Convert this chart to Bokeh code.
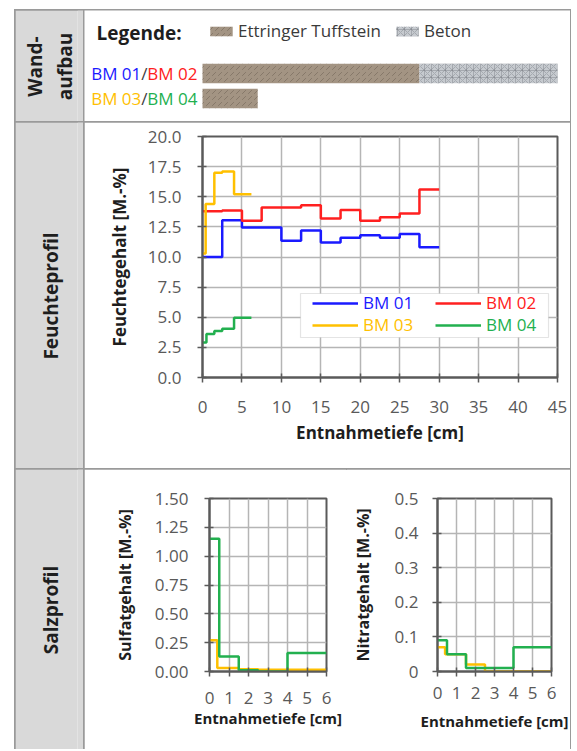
from bokeh.plotting import figure
from bokeh.layouts import row, column
from bokeh.models import (Range1d, FixedTicker, NumeralTickFormatter, Plot, LinearAxis,
                          Legend, LegendItem, BoxAnnotation, Label)
from bokeh.embed import file_html
from bokeh.resources import INLINE

# ------------------------------------------------------------------ data
wall_rows = ["BM 01/BM 02", "BM 03/BM 04"]
tuff_rows = ["BM 01/BM 02", "BM 03/BM 04"]
tuff_from = [0.0, 0.0]
tuff_to = [27.5, 7.0]
beton_rows = ["BM 01/BM 02"]
beton_from = [27.5]
beton_to = [45.0]

depth_bm0102 = [0, 2.5, 5, 7.5, 10, 12.5, 15, 17.5, 20, 22.5, 25, 27.5, 30]
moist_bm01 = [10.0, 13.05, 12.45, 12.45, 11.35, 12.2, 11.2, 11.6, 11.8, 11.6, 11.9, 10.8]
moist_bm02 = [13.8, 13.85, 13.0, 14.1, 14.1, 14.3, 13.2, 13.9, 13.0, 13.3, 13.6, 15.6]
depth_bm03_moist = [0, 0.4, 1.5, 2.5, 4.0, 6.2]
moist_bm03 = [10.3, 14.4, 17.0, 17.1, 15.2]
depth_bm04_moist = [0, 0.5, 1.5, 2.5, 4.0, 6.2]
moist_bm04 = [2.9, 3.6, 3.85, 4.05, 4.95]

depth_bm03_salt = [0, 0.4, 1.5, 2.5, 4, 6]
depth_bm04_salt = [0, 0.5, 1.5, 2.5, 4, 6]
sulfat_bm03 = [0.27, 0.03, 0.02, 0.015, 0.015]
sulfat_bm04 = [1.15, 0.13, 0.01, 0.0, 0.16]
nitrat_bm03 = [0.07, 0.05, 0.02, 0.0, 0.0]
nitrat_bm04 = [0.09, 0.05, 0.01, 0.01, 0.07]

series_names = ["BM 01", "BM 02", "BM 03", "BM 04"]

moist_x_ticks = [0, 5, 10, 15, 20, 25, 30, 35, 40, 45]
moist_y_ticks = [0, 2.5, 5, 7.5, 10, 12.5, 15, 17.5, 20]
salt_x_ticks = [0, 1, 2, 3, 4, 5, 6]
sulfat_y_ticks = [0, 0.25, 0.5, 0.75, 1.0, 1.25, 1.5]
nitrat_y_ticks = [0, 0.1, 0.2, 0.3, 0.4, 0.5]

# ------------------------------------------------------------------ style / layout constants
FONT = "Open Sans"
LINE = "#9a9a9a"
GRAY_CELL = "#d9d9d9"
AXIS = "#5a5a5a"
GRID = "#b5b5b5"
TICK_TXT = "#595959"
TITLE_TXT = "#1e1e1e"
COLORS = {"BM 01": "#1a1aff", "BM 02": "#ff2020", "BM 03": "#ffc000", "BM 04": "#22b04f"}
PAD_L, PAD_T = 15, 10       # white space left of / above the table
LW = 69                     # left column width  (x 15..84)
RW = 486                    # right column width (x 84..570)
H1, H2, H3 = 112, 347, 281  # row heights (y 10..122..469..750)
SW, NW = 262, 224           # salt chart widths
M_L, M_R = 118, 13          # moisture frame borders (shared with wall strip)
CELL_FL = 62                # frame start inside the gray cells (titles sit left of it)
FA = {"frame_align": False} if "frame_align" in Plot.properties() else {}

CELL_CSS = {"outline": "2px solid " + LINE, "outline-offset": "-1px"}
LAST_CSS = dict(CELL_CSS, **{"clip-path": "inset(-3px -3px 1px -3px)"})

OS_W = {'B': 0.633, 'M': 0.903, ' ': 0.26, '/': 0.367}


def text_w(s, size):
    return sum(OS_W.get(ch, 0.572) for ch in s) * size


def steps(edges, vals):
    xs, ys = [], []
    for i, v in enumerate(vals):
        xs += [edges[i], edges[i + 1]]
        ys += [v, v]
    return xs, ys


def plain_fig(w, h, color, xr=None, yr=None, css=None, left=0):
    kw = dict(FA)
    if css:
        kw["styles"] = css
    p = figure(width=w, height=h, x_range=xr or Range1d(0, 1), y_range=yr or Range1d(0, 1),
               output_backend="svg", toolbar_location=None,
               min_border_left=left, min_border_right=0, min_border_top=0, min_border_bottom=0,
               x_axis_location=None, y_axis_location=None,
               background_fill_color=color, border_fill_color=color, outline_line_color=None,
               **kw)
    p.grid.visible = False
    return p


def style_axes(p, xticks, yticks, yfmt, xlab, ylab, fs, tfs, xtfs,
               ystand, ytstand, xstand, xtstand):
    for ax in (p.xaxis[0], p.yaxis[0]):
        ax.axis_line_color = AXIS
        ax.axis_line_width = 2
        ax.major_tick_line_color = AXIS
        ax.major_tick_line_width = 1.5
        ax.major_tick_in = 4
        ax.major_tick_out = 5
        ax.minor_tick_line_color = None
        ax.major_label_text_font = FONT
        ax.major_label_text_font_size = fs
        ax.major_label_text_color = TICK_TXT
        ax.axis_label_text_font = FONT
        ax.axis_label_text_font_style = "bold"
        ax.axis_label_text_font_size = tfs
        ax.axis_label_text_color = TITLE_TXT
    p.xaxis.axis_label_text_font_size = xtfs
    p.xaxis.ticker = FixedTicker(ticks=xticks)
    p.yaxis.ticker = FixedTicker(ticks=yticks)
    p.xaxis.formatter = NumeralTickFormatter(format="0")
    p.yaxis.formatter = NumeralTickFormatter(format=yfmt)
    p.xaxis.axis_label = xlab
    p.yaxis.axis_label = ylab
    p.yaxis.major_label_standoff = ystand
    p.yaxis.axis_label_standoff = ytstand
    p.xaxis.major_label_standoff = xstand
    p.xaxis.axis_label_standoff = xtstand
    p.grid.grid_line_color = GRID
    p.grid.grid_line_width = 1.5
    p.outline_line_color = AXIS
    p.outline_line_width = 2


def chart_fig(w, h, xr, yr, l, r, t, b, css=None):
    kw = dict(FA)
    if css:
        kw["styles"] = css
    return figure(width=w, height=h, x_range=xr, y_range=yr, output_backend="svg",
                  toolbar_location=None, min_border_left=l, min_border_right=r,
                  min_border_top=t, min_border_bottom=b, **kw)


# ------------------------------------------------------------------ left column cells
def gray_cell(h, titles, css=CELL_CSS):
    """Gray row-header cell; its rotated titles are (invisible) y-axis labels."""
    c = plain_fig(LW, h, GRAY_CELL, css=css, left=CELL_FL)
    for txt, standoff in titles:
        c.add_layout(LinearAxis(axis_label=txt, ticker=FixedTicker(ticks=[]),
                                axis_line_color=None, major_tick_line_color=None,
                                minor_tick_line_color=None, major_label_text_font_size="0px",
                                major_tick_in=0, major_tick_out=0, major_label_standoff=0,
                                axis_label_standoff=standoff, axis_label_text_font=FONT,
                                axis_label_text_font_style="bold",
                                axis_label_text_font_size="19px",
                                axis_label_text_color=TITLE_TXT), "left")
    return c


cell_wand = gray_cell(H1, [("aufbau", 0), ("Wand-", 1)])
cell_feucht = gray_cell(H2, [("Feuchteprofil", 14)])
cell_salz = gray_cell(H3, [("Salzprofil", 14)], css=LAST_CSS)

# ------------------------------------------------------------------ moisture chart
moist = chart_fig(RW, H2, Range1d(moist_x_ticks[0], moist_x_ticks[-1]),
                  Range1d(moist_y_ticks[0], moist_y_ticks[-1]), M_L, M_R, 14, 92, css=CELL_CSS)
style_axes(moist, moist_x_ticks, moist_y_ticks, "0.0", "Entnahmetiefe [cm]",
           "Feuchtegehalt [M.-%]", "17px", "17px", "17px", 16, 14, 18, 5)

moist_series = [(depth_bm0102, moist_bm01), (depth_bm0102, moist_bm02),
                (depth_bm03_moist, moist_bm03), (depth_bm04_moist, moist_bm04)]
moist_renderers = {}
for name, (edges, vals) in zip(series_names, moist_series):
    xs, ys = steps(edges, vals)
    moist_renderers[name] = moist.line(xs, ys, line_color=COLORS[name], line_width=2.5)

moist.add_layout(BoxAnnotation(left=98, right=346, bottom=40, top=84,
                               left_units="screen", right_units="screen",
                               top_units="screen", bottom_units="screen",
                               fill_color="white", fill_alpha=1,
                               line_color="#a6a6a6", line_width=1.2))
leg_pos = {"BM 01": (110, 63), "BM 02": (233, 63), "BM 03": (110, 41), "BM 04": (233, 41)}
for name in series_names:
    moist.add_layout(Legend(items=[LegendItem(label=name, renderers=[moist_renderers[name]])],
                            location=leg_pos[name], glyph_width=46, glyph_height=20,
                            label_height=20, label_standoff=5, padding=0, margin=0, spacing=0,
                            border_line_color=None, background_fill_alpha=0,
                            label_text_font=FONT, label_text_font_size="17px",
                            label_text_color=COLORS[name]))

# ------------------------------------------------------------------ wall structure strip
ppu = (RW - M_L - M_R) / (moist_x_ticks[-1] - moist_x_ticks[0])
ROW_PITCH = 25
ROW_BASE = 24
wall = plain_fig(RW, H1, "white", css=CELL_CSS,
                 xr=Range1d(moist_x_ticks[0] - M_L / ppu, moist_x_ticks[-1] + M_R / ppu),
                 yr=Range1d(-ROW_BASE / ROW_PITCH, (H1 - ROW_BASE) / ROW_PITCH))
row_index = {r: len(wall_rows) - 1 - i for i, r in enumerate(wall_rows)}
tuff_r = wall.hbar(y=[row_index[r] for r in tuff_rows], left=tuff_from, right=tuff_to,
                   height=0.78, fill_color="#a39483", line_color=None,
                   hatch_pattern="right_diagonal_dash", hatch_color="#6c5f52",
                   hatch_alpha=0.55, hatch_scale=6, hatch_weight=1)
beton_r = wall.hbar(y=[row_index[r] for r in beton_rows], left=beton_from, right=beton_to,
                    height=0.78, fill_color="#c6cacf", line_color=None,
                    hatch_pattern="criss_cross", hatch_color="#7c8188",
                    hatch_alpha=0.45, hatch_scale=7, hatch_weight=1)
wall.add_layout(Legend(items=[LegendItem(label="Ettringer Tuffstein", renderers=[tuff_r]),
                              LegendItem(label="Beton", renderers=[beton_r])],
                       location=(123, 80), orientation="horizontal", glyph_width=28,
                       glyph_height=12, label_height=20, label_standoff=3, spacing=12,
                       padding=0, margin=0, border_line_color=None, background_fill_alpha=0,
                       label_text_font=FONT, label_text_font_size="17px",
                       label_text_color="#3a3a3a"))
wall.add_layout(Label(x=12, y=90, x_units="screen", y_units="screen", text="Legende:",
                      text_baseline="middle", text_font=FONT, text_font_style="bold",
                      text_font_size="19px", text_color=TITLE_TXT))
row_colors = [(COLORS["BM 01"], COLORS["BM 02"]), (COLORS["BM 03"], COLORS["BM 04"])]
for label, (c1, c2) in zip(wall_rows, row_colors):
    a, b = label.split("/")
    y = ROW_BASE + row_index[label] * ROW_PITCH
    x = M_L - 5
    for txt, col in reversed([(a, c1), ("/", "#404040"), (b, c2)]):
        wall.add_layout(Label(x=x, y=y, x_units="screen", y_units="screen", text=txt,
                              text_align="right", text_baseline="middle", text_font=FONT,
                              text_font_size="17px", text_color=col))
        x -= text_w(txt, 17)

# ------------------------------------------------------------------ salt charts
sulf = chart_fig(SW, H3, Range1d(salt_x_ticks[0], salt_x_ticks[-1]),
                 Range1d(sulfat_y_ticks[0], sulfat_y_ticks[-1]), 125, 20, 29, 79)
style_axes(sulf, salt_x_ticks, sulfat_y_ticks, "0.00", "Entnahmetiefe [cm]",
           "Sulfatgehalt [M.-%]", "17px", "16px", "15px", 16, 16, 15, 1)
for name, edges, vals in [("BM 03", depth_bm03_salt, sulfat_bm03),
                          ("BM 04", depth_bm04_salt, sulfat_bm04)]:
    xs, ys = steps(edges, vals)
    sulf.line(xs, ys, line_color=COLORS[name], line_width=2.5)

nitr = chart_fig(NW, H3, Range1d(salt_x_ticks[0], salt_x_ticks[-1]),
                 Range1d(nitrat_y_ticks[0], nitrat_y_ticks[-1]), 91, 19, 29, 79)
style_axes(nitr, salt_x_ticks, nitrat_y_ticks, "0.[0]", "Entnahmetiefe [cm]",
           "Nitratgehalt [M.-%]", "17px", "16px", "15px", 14, 18, 10, 9)
for name, edges, vals in [("BM 03", depth_bm03_salt, nitrat_bm03),
                          ("BM 04", depth_bm04_salt, nitrat_bm04)]:
    xs, ys = steps(edges, vals)
    nitr.line(xs, ys, line_color=COLORS[name], line_width=2.5)

# ------------------------------------------------------------------ layout
left_col = column(cell_wand, cell_feucht, cell_salz)
right_col = column(row(wall), row(moist), row(sulf, nitr, styles=LAST_CSS))
table = row(left_col, right_col)
pad_top = plain_fig(PAD_L + LW + RW, PAD_T, "white")
pad_left = plain_fig(PAD_L, H1 + H2 + H3, "white")
layout = column(pad_top, row(pad_left, table))

open("out.html", "w").write(file_html(layout, INLINE))
